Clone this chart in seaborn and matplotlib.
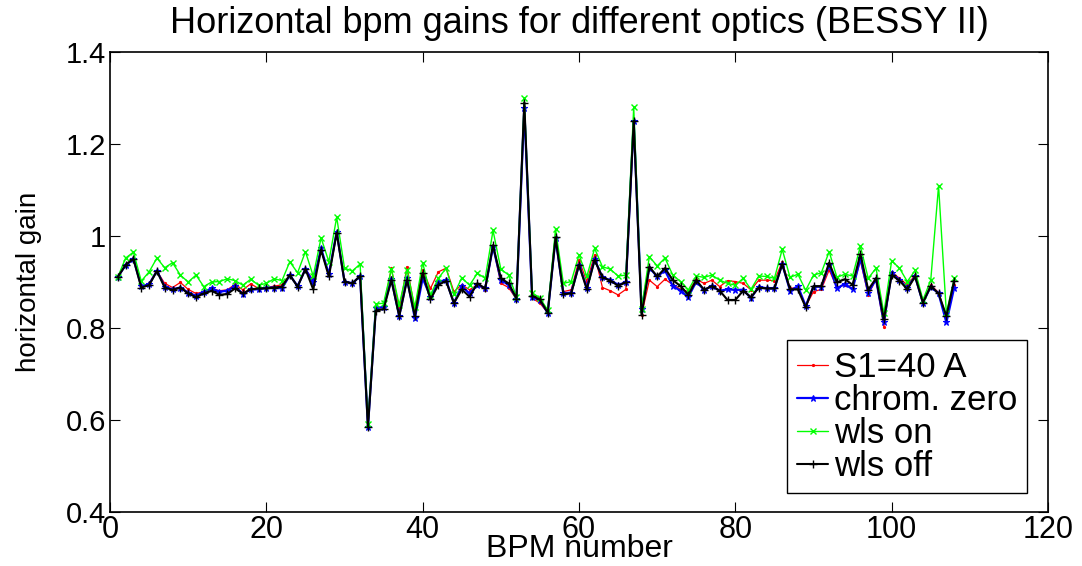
import matplotlib
matplotlib.use("Agg")
import matplotlib.pyplot as plt
import seaborn as sns
import numpy as np
import pandas as pd

bpm = list(range(1, 109))

s1_40A = [0.911,0.939,0.952,0.890,0.897,0.924,0.897,0.888,0.899,0.884,
          0.875,0.879,0.886,0.881,0.883,0.895,0.883,0.896,0.886,0.888,
          0.891,0.894,0.915,0.891,0.928,0.904,0.970,0.915,1.006,0.901,
          0.897,0.912,0.585,0.843,0.845,0.930,0.840,0.933,0.840,0.926,
          0.886,0.922,0.930,0.879,0.894,0.883,0.894,0.883,0.977,0.897,
          0.888,0.862,1.280,0.865,0.854,0.833,0.995,0.879,0.883,0.948,
          0.901,0.959,0.888,0.881,0.872,0.884,1.250,0.828,0.904,0.890,
          0.906,0.894,0.884,0.879,0.906,0.897,0.904,0.890,0.903,0.901,
          0.897,0.883,0.904,0.904,0.903,0.944,0.886,0.888,0.847,0.879,
          0.884,0.926,0.888,0.894,0.886,0.946,0.872,0.906,0.803,0.922,
          0.908,0.894,0.915,0.857,0.894,0.877,0.825,0.894]

chrom_zero = [0.911,0.937,0.950,0.891,0.895,0.924,0.890,0.884,0.888,0.877,
              0.870,0.879,0.886,0.879,0.881,0.891,0.874,0.884,0.884,0.888,
              0.888,0.886,0.915,0.891,0.928,0.899,0.973,0.917,1.009,0.901,
              0.897,0.913,0.585,0.843,0.846,0.906,0.826,0.908,0.821,0.908,
              0.868,0.901,0.904,0.854,0.891,0.875,0.894,0.886,0.977,0.904,
              0.894,0.864,1.278,0.868,0.860,0.833,0.995,0.875,0.877,0.937,
              0.888,0.949,0.910,0.904,0.894,0.899,1.250,0.841,0.931,0.912,
              0.925,0.891,0.881,0.868,0.901,0.883,0.891,0.881,0.884,0.883,
              0.883,0.865,0.890,0.886,0.886,0.939,0.881,0.891,0.848,0.890,
              0.890,0.937,0.886,0.896,0.884,0.952,0.877,0.906,0.812,0.920,
              0.904,0.888,0.912,0.855,0.890,0.875,0.812,0.888]

wls_on = [0.911,0.952,0.965,0.902,0.922,0.952,0.931,0.942,0.915,0.900,
          0.915,0.890,0.900,0.901,0.907,0.903,0.893,0.906,0.893,0.897,
          0.907,0.903,0.944,0.920,0.966,0.913,0.996,0.944,1.041,0.930,
          0.924,0.939,0.592,0.852,0.854,0.928,0.850,0.926,0.845,0.942,
          0.872,0.908,0.930,0.873,0.909,0.893,0.919,0.908,1.012,0.928,
          0.915,0.868,1.299,0.877,0.865,0.839,1.015,0.897,0.901,0.959,
          0.912,0.973,0.933,0.928,0.913,0.915,1.280,0.842,0.955,0.935,
          0.952,0.915,0.901,0.883,0.913,0.910,0.915,0.904,0.897,0.893,
          0.908,0.884,0.913,0.912,0.908,0.971,0.910,0.917,0.882,0.915,
          0.920,0.966,0.910,0.917,0.913,0.978,0.908,0.930,0.832,0.946,
          0.930,0.901,0.925,0.861,0.904,1.109,0.832,0.908]

wls_off = [0.911,0.937,0.950,0.888,0.893,0.924,0.888,0.883,0.888,0.875,
           0.867,0.875,0.881,0.872,0.874,0.886,0.875,0.884,0.886,0.886,
           0.888,0.890,0.915,0.890,0.928,0.884,0.970,0.912,1.007,0.901,
           0.897,0.913,0.585,0.838,0.841,0.904,0.826,0.904,0.826,0.920,
           0.862,0.894,0.902,0.854,0.884,0.868,0.897,0.886,0.980,0.908,
           0.897,0.864,1.290,0.870,0.862,0.833,0.997,0.874,0.875,0.937,
           0.884,0.948,0.910,0.903,0.892,0.899,1.250,0.828,0.933,0.912,
           0.930,0.904,0.891,0.872,0.904,0.883,0.891,0.881,0.861,0.861,
           0.881,0.867,0.888,0.886,0.886,0.939,0.884,0.884,0.845,0.891,
           0.891,0.942,0.899,0.906,0.894,0.961,0.883,0.908,0.819,0.915,
           0.903,0.884,0.912,0.855,0.891,0.875,0.826,0.903]

labels = ["S1=40 A", "chrom. zero", "wls on", "wls off"]
xticks = [0, 20, 40, 60, 80, 100, 120]
yticks = [0.4, 0.6, 0.8, 1.0, 1.2, 1.4]
ytick_labels = ["0.4", "0.6", "0.8", "1", "1.2", "1.4"]

sns.set_theme(style="white")
plt.rcParams['font.family'] = ['Liberation Sans', 'DejaVu Sans']
plt.rcParams['text.color'] = 'black'
plt.rcParams['axes.labelcolor'] = 'black'
plt.rcParams['xtick.color'] = 'black'
plt.rcParams['ytick.color'] = 'black'
plt.rcParams['xtick.direction'] = 'in'
plt.rcParams['ytick.direction'] = 'in'

fig = plt.figure(figsize=(10.82, 5.66), dpi=100)
ax = fig.add_axes([110/1082, 1 - 512/566, 938/1082, 460/566])

series = [s1_40A, chrom_zero, wls_on, wls_off]
colors = [(1, 0, 0), (0, 0, 1), (0, 1, 0), (0, 0, 0)]
styles = [
    dict(marker='.', markersize=3, linewidth=0.9, markeredgewidth=0.8),
    dict(marker='*', markersize=5, linewidth=1.6, markeredgewidth=0.8),
    dict(marker='x', markersize=4, linewidth=1.0, markeredgewidth=1.0),
    dict(marker='+', markersize=6, linewidth=1.5, markeredgewidth=1.0),
]
for vals, lab, col, st in zip(series, labels, colors, styles):
    df = pd.DataFrame({"bpm": bpm, "gain": vals})
    sns.lineplot(data=df, x="bpm", y="gain", ax=ax, label=lab,
                 estimator=None, sort=False, color=col,
                 markeredgecolor=col, markerfacecolor=col, **st)

ax.set_xlim(0, 120)
ax.set_ylim(0.4, 1.4)
ax.set_xticks(xticks)
ax.set_xticklabels([str(t) for t in xticks], fontsize=22)
ax.set_yticks(yticks)
ax.set_yticklabels(ytick_labels, fontsize=21)
ax.tick_params(axis='both', which='both', direction='in', length=7, width=0.8,
               top=True, right=True, bottom=True, left=True, colors='black',
               labelcolor='black', pad=3)
ax.tick_params(axis='x', pad=2)
for sp in ax.spines.values():
    sp.set_color('black')
    sp.set_linewidth(1.2)

ax.set_xlabel("BPM number", fontsize=23, color='black')
ax.xaxis.set_label_coords(0.5, -0.048)
ax.set_ylabel("horizontal gain", fontsize=20, color='black')
ax.yaxis.set_label_coords(-0.0725, 0.5)
ax.set_title("Horizontal bpm gains for different optics (BESSY II)", fontsize=26,
             pad=14, color='black')

leg = ax.legend(loc='lower right', bbox_to_anchor=(0.978, 0.041), fontsize=25,
                frameon=True, fancybox=False, framealpha=1, edgecolor='black',
                handlelength=0.9, handletextpad=0.15, labelspacing=0.0,
                borderpad=0.3, borderaxespad=0)
leg.get_frame().set_linewidth(1.0)
for t in leg.get_texts():
    t.set_color('black')

fig.savefig("out.png", dpi=100, facecolor='white')
